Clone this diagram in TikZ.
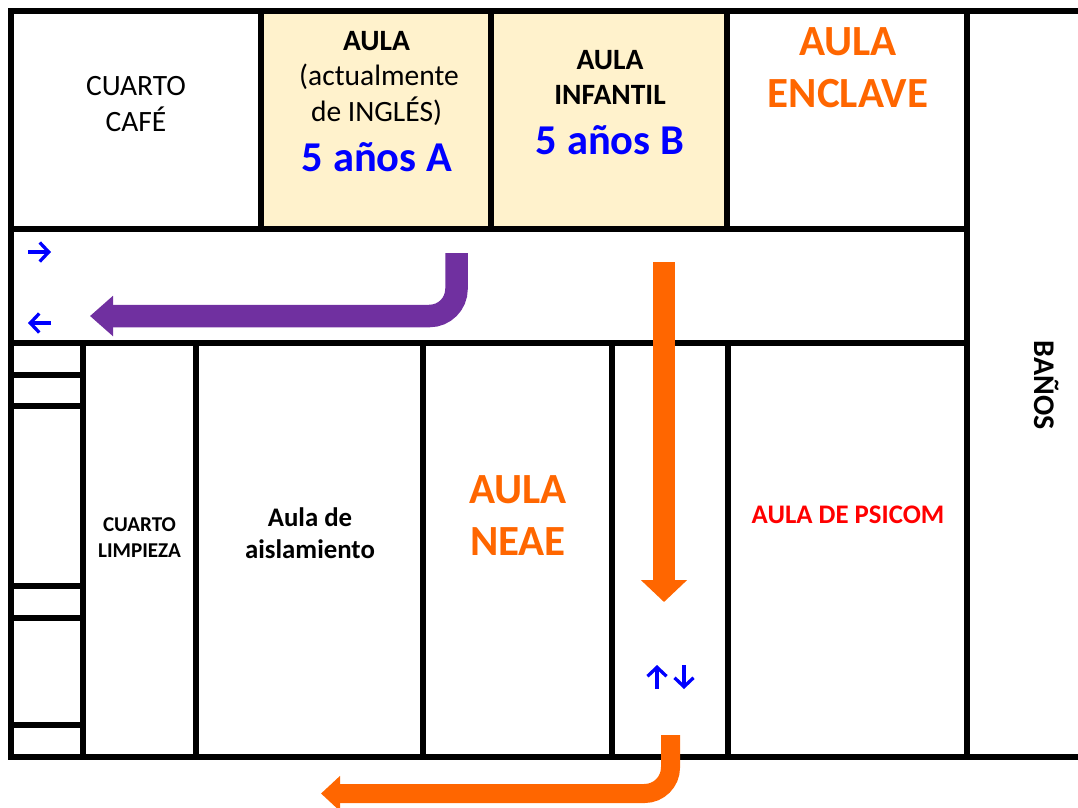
\documentclass[tikz,border=0pt]{standalone}
\usepackage{xcolor}
\usepackage{fontspec}
\setmainfont{Carlito}
\usetikzlibrary{positioning,arrows.meta}
\definecolor{cream}{HTML}{FFF2CC}
\definecolor{routepurple}{HTML}{7030A0}
\definecolor{routeorange}{HTML}{FF6600}
\tikzset{
  wall/.style={line width=6pt,line cap=rect},
  lbl/.style={align=center,inner sep=0pt},
  smallfont/.style={font=\fontsize{21.1}{26}\selectfont\bfseries},
  midfont/.style={font=\fontsize{29.5}{35.5}\selectfont},
  boldfont/.style={font=\fontsize{26.8}{32}\selectfont\bfseries},
  bigfont/.style={font=\fontsize{43}{52}\selectfont\bfseries},
  groupfont/.style={font=\fontsize{42.5}{52}\selectfont\bfseries},
  thin blue/.style={draw=blue,line width=3.3pt,-{Straight Barb[length=9pt,width=19pt,line width=3.3pt]}}
}
\begin{document}
\begin{tikzpicture}[x=1pt,y=-1pt]
\useasboundingbox (0,0) rectangle (1078,807);
\fill [cream] (261,11) rectangle (491,229);
\fill [cream] (491,11) rectangle (727,229);
% outer walls and corridor
\draw [wall] (11,11) -- (1075,11);
\draw [wall] (11,757) -- (1075,757);
\draw [wall] (11,11) -- (11,757);
\draw [wall] (967,11) -- (967,757);
\draw [wall] (11,229) -- (967,229);
\draw [wall] (11,343) -- (967,343);
% upper rooms
\draw [wall] (261,11) -- (261,229);
\draw [wall] (491,11) -- (491,229);
\draw [wall] (727,11) -- (727,229);
% lower rooms
\draw [wall] (83,343) -- (83,757);
\draw [wall] (196,343) -- (196,757);
\draw [wall] (423,343) -- (423,757);
\draw [wall] (612,343) -- (612,757);
\draw [wall] (728,343) -- (728,757);
% small cupboards
\draw [wall] (11,375) -- (83,375);
\draw [wall] (11,406) -- (83,406);
\draw [wall] (11,586) -- (83,586);
\draw [wall] (11,618) -- (83,618);
\draw [wall] (11,725) -- (83,725);
% labels
\node [lbl,midfont] (cafe) at (136,104) {CUARTO\\CAFÉ};
\node [lbl,midfont] (aulaA) at (376.5,78) {\textbf{AULA}\\\hspace*{5pt}(actualmente\\de INGLÉS)};
\node [lbl,groupfont,text=blue] (grupoA) at (377,157) {5 años A};
\node [lbl,font=\fontsize{29.5}{35}\selectfont\bfseries] (aulaB) at (610,77.5) {AULA\\INFANTIL};
\node [lbl,groupfont,text=blue] (grupoB) at (610,140) {5 años B};
\node [lbl,bigfont,text=routeorange] (enclave) at (848,68) {AULA\\ENCLAVE};
\node [lbl,smallfont] (limpieza) at (139.5,538) {CUARTO\\LIMPIEZA};
\node [lbl,boldfont] (aislamiento) at (310,533) {Aula de\\aislamiento};
\node [lbl,bigfont,text=routeorange] (neae) at (518,516) {AULA\\NEAE};
\node [lbl,font=\fontsize{26.8}{32}\selectfont\bfseries,text=red] (psicom) at (848,515) {AULA DE PSICOM};
\node [lbl,font=\fontsize{30}{32}\selectfont\bfseries,rotate=-90] (banos) at (1047,385) {BAÑOS};
% routes
\coordinate (purpleA) at (456.5,253);
\coordinate (purpleB) at (90,316);
\draw [routepurple,line width=22.5pt,rounded corners=27pt,-{Triangle[length=23pt,width=39pt]}] (purpleA) |- (purpleB);
\coordinate (orangeA) at (664,262);
\coordinate (orangeB) at (664,602);
\draw [routeorange,line width=22.5pt,-{Triangle[length=22pt,width=45pt]}] (orangeA) -- (orangeB);
\coordinate (orangeC) at (670.5,735);
\coordinate (orangeD) at (321,793.5);
\draw [routeorange,line width=19pt,rounded corners=26pt,-{Triangle[length=19pt,width=34pt]}] (orangeC) |- (orangeD);
% blue marks
\coordinate (inA) at (28,252);
\coordinate (inB) at (51,252);
\draw [thin blue] (inA) -- (inB);
\coordinate (outA) at (51,323);
\coordinate (outB) at (28,323);
\draw [thin blue] (outA) -- (outB);
\coordinate (upA) at (657,689);
\coordinate (upB) at (657,665);
\draw [thin blue] (upA) -- (upB);
\coordinate (downA) at (684,665);
\coordinate (downB) at (684,689);
\draw [thin blue] (downA) -- (downB);
\end{tikzpicture}
\end{document}
